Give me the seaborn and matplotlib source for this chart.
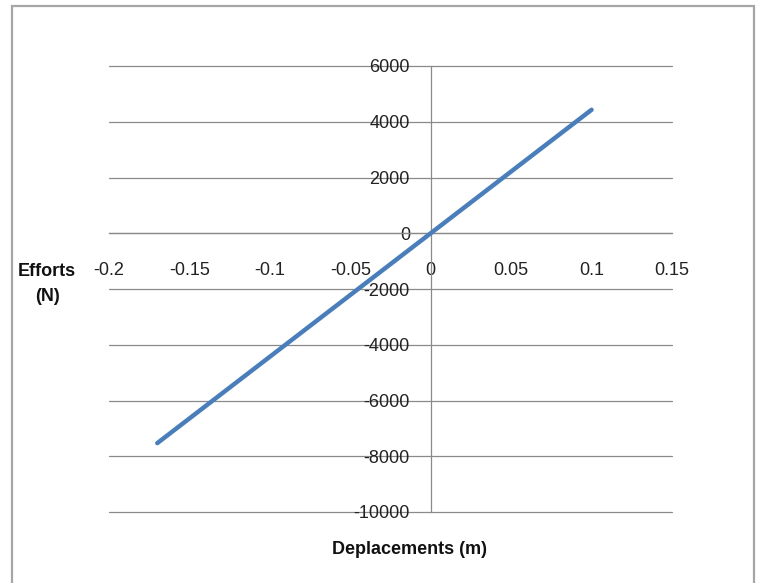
import numpy as np
import pandas as pd
import matplotlib
matplotlib.use("Agg")
import matplotlib.pyplot as plt
import matplotlib.patches as mpatches
import seaborn as sns

# values
displacements = [-0.17, 0.0, 0.10]      # m
efforts = [-7530, 0, 4430]              # N
x_ticks = [-0.2, -0.15, -0.1, -0.05, 0, 0.05, 0.1, 0.15]
x_tick_labels = ["-0.2", "-0.15", "-0.1", "-0.05", "0", "0.05", "0.1", "0.15"]
y_ticks = [-10000, -8000, -6000, -4000, -2000, 0, 2000, 4000, 6000]

sns.set_style("white")
plt.rcParams["font.family"] = ["Liberation Sans", "DejaVu Sans"]

df = pd.DataFrame({"x": displacements, "y": efforts})

grid_col = "#8a8a8a"

fig = plt.figure(figsize=(7.58, 5.83), dpi=100)
ax = fig.add_axes([109 / 758, 1 - 512 / 583, (672 - 109) / 758, (512 - 66) / 583])

sns.lineplot(data=df, x="x", y="y", ax=ax, color="#4a7ebb", linewidth=3.2,
             solid_capstyle="round", zorder=3)

ax.set_xlim(-0.2, 0.15)
ax.set_ylim(-10000, 6000)
ax.set_xticks(x_ticks)
ax.set_xticklabels(x_tick_labels)
ax.set_yticks(y_ticks)
ax.set_yticklabels([str(v) for v in y_ticks])

# axes cross at zero, Excel style
for side in ["top", "right"]:
    ax.spines[side].set_visible(False)
ax.spines["bottom"].set_position(("data", 0))
ax.spines["left"].set_position(("data", 0))
for side in ["bottom", "left"]:
    ax.spines[side].set_color(grid_col)
    ax.spines[side].set_linewidth(0.9)

ax.yaxis.grid(True, color=grid_col, linewidth=0.9)
ax.set_axisbelow(True)
for gl in ax.get_ygridlines():
    gl.set_clip_on(False)

ax.tick_params(axis="x", direction="out", length=6, width=0.9, color=grid_col,
               pad=15, labelsize=13, labelcolor="#222222")
ax.tick_params(axis="y", length=0, pad=15, labelsize=13, labelcolor="#222222")
ax.set_xlabel("")
ax.set_ylabel("")

fig.text(47 / 758, 1 - 284 / 583, "Efforts\n(N)", ha="center", va="center",
         fontsize=13, fontweight="bold", linespacing=1.6, color="#111111")
fig.text(410 / 758, 1 - 549 / 583, "Deplacements (m)", ha="center", va="center",
         fontsize=13, fontweight="bold", color="#111111")

# outer chart frame (bottom edge falls outside the picture)
frame = mpatches.Rectangle((12 / 758, -0.05), (754 - 12) / 758, 1.05 - 6 / 583,
                           transform=fig.transFigure, fill=False,
                           edgecolor="#a6a6a6", linewidth=1.6)
fig.patches.append(frame)

fig.savefig("out.png", dpi=100)
